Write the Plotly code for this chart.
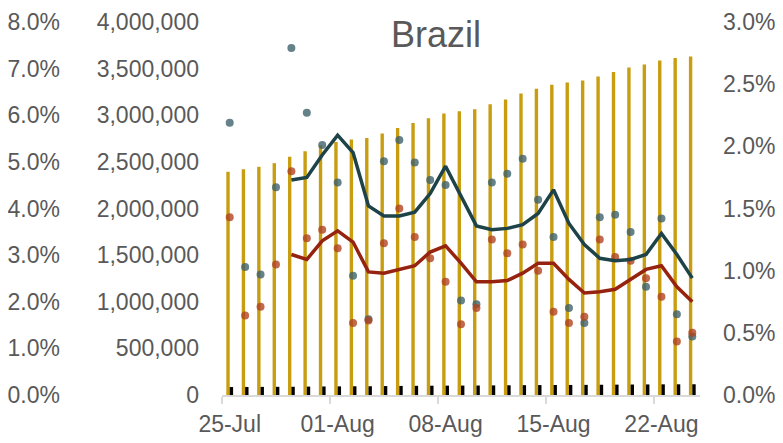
import plotly.graph_objects as go

# ---------------- data ----------------
dates = ["25-Jul", "26-Jul", "27-Jul", "28-Jul", "29-Jul", "30-Jul", "31-Jul",
         "01-Aug", "02-Aug", "03-Aug", "04-Aug", "05-Aug", "06-Aug", "07-Aug",
         "08-Aug", "09-Aug", "10-Aug", "11-Aug", "12-Aug", "13-Aug", "14-Aug",
         "15-Aug", "16-Aug", "17-Aug", "18-Aug", "19-Aug", "20-Aug", "21-Aug",
         "22-Aug", "23-Aug", "24-Aug"]
tick_labels = ["25-Jul", "01-Aug", "08-Aug", "15-Aug", "22-Aug"]

total_cases = [2394000, 2422000, 2447000, 2486000, 2556000, 2614000, 2678000,
               2713000, 2741000, 2755000, 2805000, 2862000, 2918000, 2968000,
               3018000, 3043000, 3064000, 3117000, 3170000, 3234000, 3284000,
               3327000, 3351000, 3372000, 3415000, 3465000, 3511000, 3543000,
               3588000, 3614000, 3631000]
total_deaths = [85200, 86400, 87000, 87600, 88500, 90100, 91400, 92500, 93600,
                94100, 95800, 97300, 98500, 99600, 100500, 101000, 101800,
                103000, 104200, 105500, 106500, 107200, 107900, 108500, 109900,
                111100, 112300, 113400, 114300, 114700, 115300]
case_growth = [2.19, 1.03, 0.97, 1.67, 2.79, 2.27, 2.01, 1.71, 0.96, 0.61, 1.88,
               2.05, 1.87, 1.73, 1.69, 0.76, 0.73, 1.71, 1.78, 1.90, 1.57, 1.27,
               0.70, 0.58, 1.43, 1.45, 1.31, 0.87, 1.42, 0.65, 0.47]
death_growth = [1.43, 0.64, 0.71, 1.05, 1.80, 1.26, 1.33, 1.18, 0.58, 0.60, 1.22,
                1.50, 1.27, 1.10, 0.91, 0.57, 0.70, 1.25, 1.14, 1.21, 1.00, 0.67,
                0.58, 0.63, 1.25, 1.11, 1.08, 0.94, 0.79, 0.43, 0.50]
case_growth_avg = [None, None, None, None,
                   1.73, 1.75, 1.93, 2.09, 1.95, 1.52, 1.44, 1.44, 1.47, 1.62,
                   1.84, 1.60, 1.36, 1.33, 1.34, 1.37, 1.46, 1.65, 1.38, 1.21,
                   1.10, 1.08, 1.09, 1.13, 1.30, 1.13, 0.94]
death_growth_avg = [None, None, None, None,
                    1.13, 1.09, 1.24, 1.32, 1.23, 0.99, 0.98, 1.01, 1.04, 1.15,
                    1.20, 1.06, 0.91, 0.91, 0.92, 0.98, 1.06, 1.06, 0.93, 0.82,
                    0.83, 0.85, 0.93, 1.01, 1.04, 0.87, 0.75]

# ---------------- figure ----------------
# the page body adds an 8px offset, so geometry is shifted up/left by 8px
W, H = 783, 443
ML, MR, MT, MB = 0, 91, 14, 56
paper_w = W - ML - MR
plot_h = H - MT - MB
plot_left = 214

xpos = list(range(len(dates)))
tickvals = [dates.index(t) for t in tick_labels]

FONT = "Liberation Sans, Arial, sans-serif"
TXT = "#595959"
FS = 23

fig = go.Figure()

fig.add_trace(go.Bar(x=xpos, y=total_cases, width=0.22, offset=-0.22,
                     marker=dict(color="#C89D10", line=dict(width=0)),
                     name="Total cases", yaxis="y"))
fig.add_trace(go.Bar(x=xpos, y=total_deaths, width=0.22, offset=0.0,
                     marker=dict(color="#000000", line=dict(width=0)),
                     name="Total deaths", yaxis="y"))

fig.add_trace(go.Scatter(x=xpos, y=case_growth, mode="markers", yaxis="y2",
                         marker=dict(size=8, color="rgba(62,98,108,0.8)"),
                         name="Case growth"))
fig.add_trace(go.Scatter(x=xpos, y=death_growth, mode="markers", yaxis="y2",
                         marker=dict(size=8, color="rgba(176,68,34,0.8)"),
                         name="Death growth"))
fig.add_trace(go.Scatter(x=xpos, y=case_growth_avg, mode="lines", yaxis="y2",
                         line=dict(color="#1D4349", width=3.5),
                         name="Case growth avg"))
fig.add_trace(go.Scatter(x=xpos, y=death_growth_avg, mode="lines", yaxis="y2",
                         line=dict(color="#962210", width=3.5),
                         name="Death growth avg"))
# outer left percent axis
fig.add_trace(go.Scatter(x=[None], y=[None], yaxis="y3", showlegend=False,
                         hoverinfo="skip"))

fig.update_layout(
    width=W, height=H,
    margin=dict(l=ML, r=MR, t=MT, b=MB, pad=0, autoexpand=False),
    paper_bgcolor="white", plot_bgcolor="white",
    showlegend=False, barmode="overlay",
    font=dict(family=FONT, size=FS, color=TXT),
    xaxis=dict(domain=[plot_left / paper_w, 1], range=[-0.5, len(dates) - 0.5],
               tickmode="array", tickvals=tickvals, ticktext=tick_labels,
               ticks="", showgrid=False, zeroline=False, automargin=False,
               showline=True, linecolor="#D9D9D9", linewidth=1.5,
               ticklabelstandoff=8, ticklabeloverflow="allow",
               minor=dict(tickmode="array",
                          tickvals=[v - 0.5 for v in tickvals],
                          ticks="outside", ticklen=7, tickwidth=1.5,
                          tickcolor="#D9D9D9", showgrid=False),
               tickfont=dict(size=FS, color=TXT)),
    yaxis=dict(range=[0, 4000000], tickmode="linear", tick0=0, dtick=500000,
               tickformat=",", showgrid=False, zeroline=False, showline=False,
               ticks="", ticklabelstandoff=22, automargin=False,
               ticklabeloverflow="allow",
               tickfont=dict(size=FS, color=TXT)),
    yaxis2=dict(range=[0, 3], tickmode="linear", tick0=0, dtick=0.5,
                tickformat=".1f", ticksuffix="%", overlaying="y", side="right",
                anchor="x", showgrid=False, zeroline=False, showline=False,
                ticks="", ticklabelstandoff=22, automargin=False,
                ticklabeloverflow="allow",
                tickfont=dict(size=FS, color=TXT)),
    yaxis3=dict(range=[0, 8], tickmode="linear", tick0=0, dtick=1,
                tickformat=".1f", ticksuffix="%", overlaying="y", side="left",
                anchor="free", position=52 / paper_w, showgrid=False,
                zeroline=False, showline=False, ticks="", automargin=False,
                ticklabeloverflow="allow",
                tickfont=dict(size=FS, color=TXT)),
    annotations=[dict(text="Brazil", xref="paper", yref="paper",
                      x=428 / paper_w, y=1 - (26 - MT) / plot_h,
                      xanchor="center", yanchor="middle", showarrow=False,
                      font=dict(size=36, color=TXT, family=FONT))],
)

fig.write_html("out.html")
